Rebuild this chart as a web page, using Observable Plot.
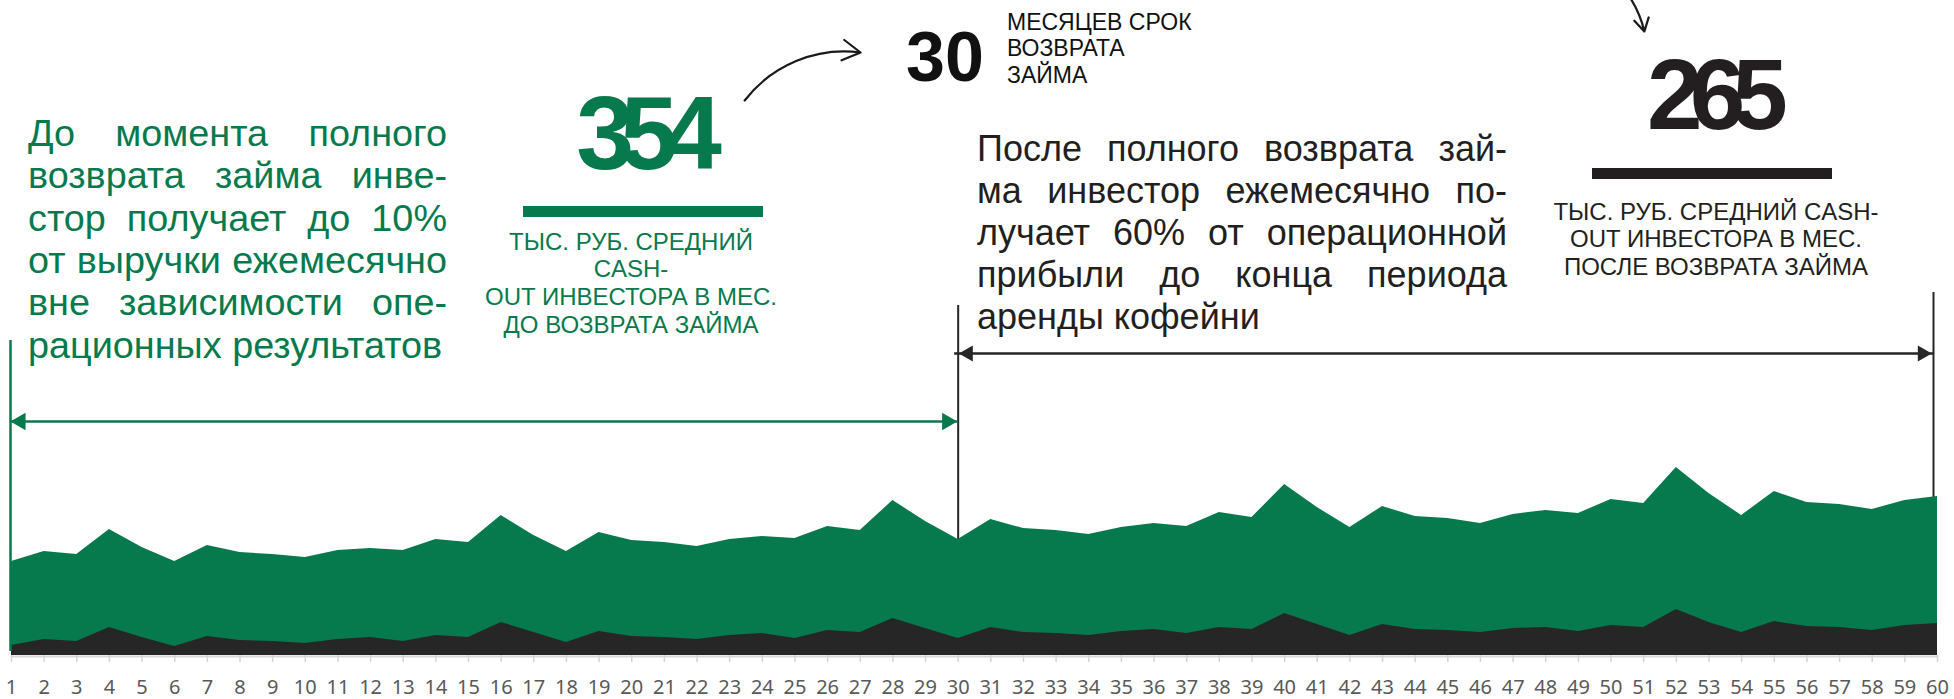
<!DOCTYPE html>
<html><head><meta charset="utf-8">
<script src="https://cdn.jsdelivr.net/npm/d3@7"></script>
<script src="https://cdn.jsdelivr.net/npm/@observablehq/plot@0.6"></script>
<style>
html,body{margin:0;padding:0;background:#fff;}
#wrap{position:relative;width:1954px;height:699px;overflow:hidden;font-family:"Liberation Sans",Arial,Helvetica,sans-serif;}
#wrap svg{position:absolute;left:0;top:0;}
.t{position:absolute;white-space:nowrap;}
.bar{position:absolute;}
</style></head><body><div id="wrap"></div>
<script>
// ---- data ----
const months = [1,2,3,4,5,6,7,8,9,10,11,12,13,14,15,16,17,18,19,20,21,22,23,24,25,26,27,28,29,30,
  31,32,33,34,35,36,37,38,39,40,41,42,43,44,45,46,47,48,49,50,51,52,53,54,55,56,57,58,59,60];
// total monthly flow (green area top)
const totalValues = [94,104,101,126,108,94,110,103,101,98,105,107,105,116,113,140,120,104,123,115,
  113,109,116,119,117,129,125,155,134,116,136,127,125,121,128,132,129,143,138,171,
  148,128,149,139,137,132,141,145,142,156,152,188,162,140,164,153,151,146,155,159];
// investor share (dark area)
const investorValues = [10,16,14,28,18,9,19,15,14,12,16,18,14,20,18,33,23,13,24,19,
  18,16,20,22,17,25,23,37,27,17,28,23,22,20,24,26,22,28,26,42,
  31,20,31,26,25,23,27,28,24,30,28,46,33,23,34,29,28,25,30,32];
const tickLabels = months.map(String);

const leftNote = ["До момента полного","возврата займа инве-","стор получает до 10%","от выручки ежемесячно","вне зависимости опе-","рационных результатов"];
const rightNote = ["После полного возврата зай-","ма инвестор ежемесячно по-","лучает 60% от операционной","прибыли до конца периода","аренды кофейни"];
const beforeValue = "354";
const beforeLabel = ["ТЫС. РУБ. СРЕДНИЙ","CASH-","OUT ИНВЕСТОРА В МЕС.","ДО ВОЗВРАТА ЗАЙМА"];
const termValue = "30";
const termLabel = ["МЕСЯЦЕВ СРОК","ВОЗВРАТА","ЗАЙМА"];
const afterValue = "265";
const afterLabel = ["ТЫС. РУБ. СРЕДНИЙ CASH-","OUT ИНВЕСТОРА В МЕС.","ПОСЛЕ ВОЗВРАТА ЗАЙМА"];

// ---- chart ----
const GREEN = "#077a4d", DARK = "#262626", INK = "#231f20";
const data = months.map((m, i) => ({month: m, total: totalValues[i], investor: investorValues[i]}));

const chart = Plot.plot({
  width: 1954, height: 699,
  marginLeft: 11, marginRight: 17, marginTop: 0, marginBottom: 44,
  x: {type: "linear", domain: [1, 60], axis: null, label: null},
  y: {domain: [0, 655], axis: null, label: null},
  style: {background: "transparent", overflow: "visible"},
  marks: [
    Plot.ruleX([30], {y1: 0, y2: 350, stroke: DARK, strokeWidth: 2}),
    Plot.ruleX([60], {y1: 0, y2: 363, stroke: DARK, strokeWidth: 2, dx: -4}),
    Plot.areaY(data, {x: "month", y: "total", fill: GREEN}),
    Plot.areaY(data, {x: "month", y: "investor", fill: DARK}),
    Plot.ruleX([1], {y1: 4, y2: 315, stroke: GREEN, strokeWidth: 2.5, dx: -1}),
    Plot.ruleY([0], {stroke: "#d9d9d9", strokeWidth: 2, dy: 1}),
    Plot.axisX(months, {tickSize: 7, tickFormat: () => "", label: null, stroke: "#d4d4d4", strokeWidth: 1.5}),
    Plot.axisX(months, {tickSize: 0, tickPadding: 24, label: null, tickFormat: (d, i) => tickLabels[i], fontSize: 20, fill: "#595959"}),
    // span arrows
    Plot.link([0], {x1: 1, x2: 30, y1: 234, y2: 234, stroke: GREEN, strokeWidth: 2.5}),
    Plot.dot([1], {x: d => d, y: 234, symbol: "triangle", r: 6.5, fill: GREEN, rotate: -90, dx: 9}),
    Plot.dot([30], {x: d => d, y: 234, symbol: "triangle", r: 6.5, fill: GREEN, rotate: 90, dx: -11}),
    Plot.link([0], {x1: 30, x2: 60, y1: 302, y2: 302, stroke: DARK, strokeWidth: 2.5, dx: -4}),
    Plot.dot([30], {x: d => d, y: 302, symbol: "triangle", r: 6, fill: DARK, rotate: -90, dx: 10}),
    Plot.dot([60], {x: d => d, y: 302, symbol: "triangle", r: 6, fill: DARK, rotate: 90, dx: -15}),
    // hand-drawn pointers
    Plot.arrow([0], {x1: 23.46, y1: 555, x2: 27.01, y2: 603, bend: 30, stroke: "#1a1a1a", strokeWidth: 2.2, headLength: 14}),
    Plot.arrow([0], {x1: 50.45, y1: 664, x2: 51.02, y2: 624, bend: 12, stroke: "#1a1a1a", strokeWidth: 2.2, headLength: 14})
  ]
});
const wrap = document.getElementById("wrap");
wrap.appendChild(chart);

// ---- text overlays ----
function addText(txt, o) {
  const d = document.createElement("div");
  d.className = "t";
  d.textContent = txt;
  const s = o.size;
  d.style.fontSize = s + "px";
  d.style.lineHeight = s + "px";
  d.style.fontWeight = o.weight || 400;
  d.style.color = o.color;
  d.style.top = (o.baseline - 0.8465 * s) + "px";
  if (o.ls) { d.style.letterSpacing = o.ls + "px"; }
  if (o.width) {
    d.style.width = o.width + "px";
    d.style.whiteSpace = "normal";
    d.style.textAlign = o.justify ? "justify" : "left";
    d.style.textAlignLast = o.justify ? "justify" : "left";
  }
  if (o.anchor === "middle") {
    d.style.left = (o.x - 400) + "px";
    d.style.width = "800px";
    d.style.textAlign = "center";
  } else {
    d.style.left = o.x + "px";
  }
  wrap.appendChild(d);
}
function addBar(x1, x2, y1, y2, color) {
  const b = document.createElement("div");
  b.className = "bar";
  Object.assign(b.style, {left: x1 + "px", top: y1 + "px", width: (x2 - x1) + "px", height: (y2 - y1) + "px", background: color});
  wrap.appendChild(b);
}

leftNote.forEach((line, i) => addText(line, {x: 28, baseline: 147 + 42.3 * i, size: 37.8, color: GREEN,
  width: 419, justify: i < leftNote.length - 1}));
rightNote.forEach((line, i) => addText(line, {x: 977, baseline: 161.7 + 41.9 * i, size: 36, color: INK,
  width: 530, justify: i < rightNote.length - 1}));

addText(beforeValue, {x: 642, baseline: 169, size: 104, weight: 700, color: GREEN, anchor: "middle", ls: -14});
addBar(523, 763, 206, 217, GREEN);
beforeLabel.forEach((line, i) => addText(line, {x: 631, baseline: 250 + 27.7 * i, size: 24, color: GREEN, anchor: "middle"}));

addText(termValue, {x: 906, baseline: 81.5, size: 70, weight: 700, color: "#111"});
termLabel.forEach((line, i) => addText(line, {x: 1007, baseline: 30 + 26.5 * i, size: 23, color: "#111"}));

addText(afterValue, {x: 1711, baseline: 129, size: 100, weight: 700, color: INK, anchor: "middle", ls: -13});
addBar(1592, 1832, 168, 179, INK);
afterLabel.forEach((line, i) => addText(line, {x: 1716, baseline: 220 + 27.5 * i, size: 24, color: INK, anchor: "middle"}));
</script>
</body></html>
